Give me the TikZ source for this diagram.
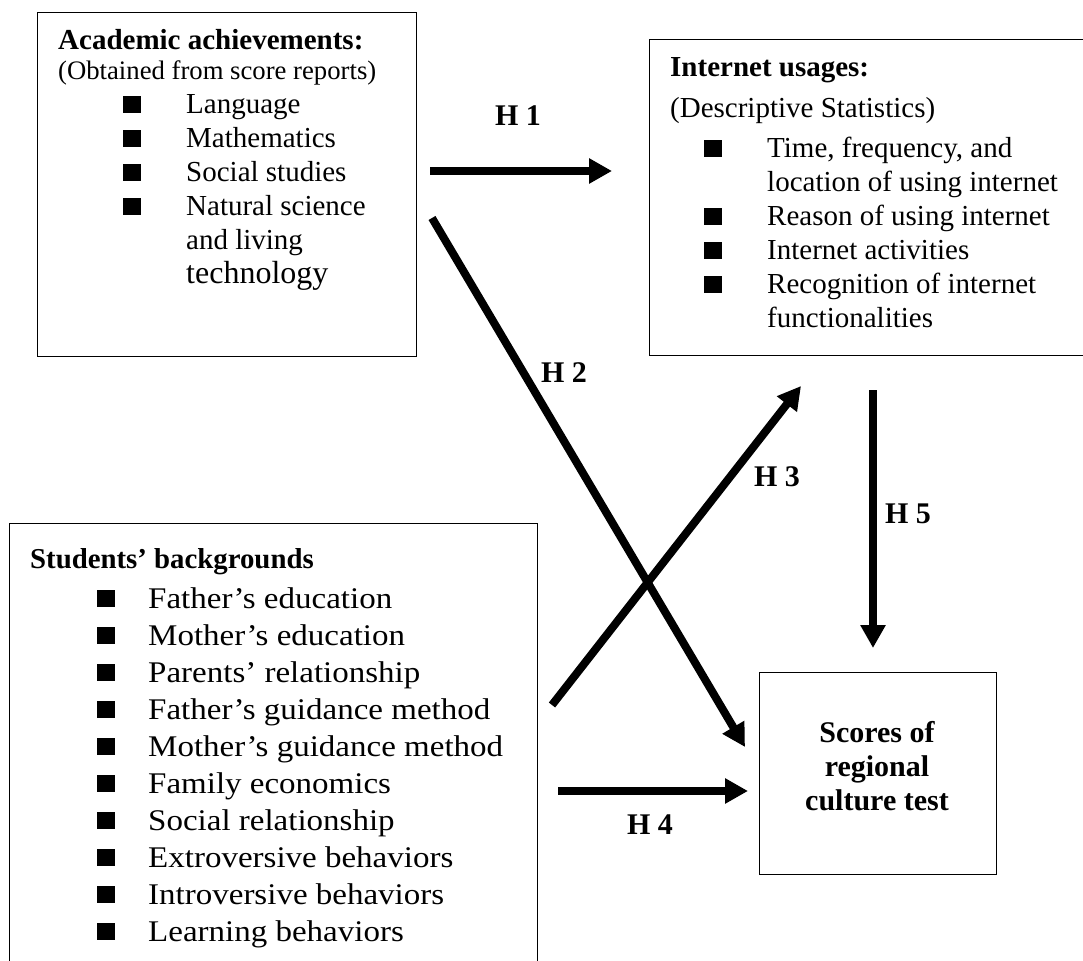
\documentclass[tikz,border=0pt]{standalone}
\usepackage{fontspec}
\setmainfont{Liberation Serif}
\newfontfamily\widefont[FakeStretch=1.1]{Liberation Serif}
\usepackage{tikz}
\usetikzlibrary{arrows.meta}
\usetikzlibrary{positioning}

\newcommand{\sqb}[1]{\makebox[#1][l]{\rule[1pt]{18pt}{17pt}}}

\begin{document}
\begin{tikzpicture}[x=1pt, y=-1pt,
	box/.style={draw, line width=1.2pt, inner sep=0pt, anchor=north west},
	txt/.style={inner sep=0pt, anchor=base west, font=\fontsize{29}{34}\selectfont},
	hyp/.style={line width=8pt, -{Triangle[length=23pt, width=24pt]}},
	hlab/.style={inner sep=0pt, font=\fontsize{30}{34}\selectfont\bfseries}]
				\useasboundingbox (0,0) rectangle (1083,960);
				\node[box, minimum width=379pt, minimum height=344pt] (acad) at (37,12) {};
				\node[box, minimum width=450pt, minimum height=316pt] (inet) at (649,39) {};
				\node[box, minimum width=528pt, minimum height=450pt] (stud) at (9,523) {};
				\node[box, minimum width=237pt, minimum height=202pt] (score) at (759,672) {};
				\node[txt] (acadtxt) at (58,50) {\begin{tabular}[t]{@{}l@{}}
					\textbf{Academic achievements:}\\[-4pt]
					{\fontsize{26.7}{34}\selectfont (Obtained from score reports)}\\
					\hspace*{65pt}\sqb{63pt}Language\\
					\hspace*{65pt}\sqb{63pt}Mathematics\\
					\hspace*{65pt}\sqb{63pt}Social studies\\
					\hspace*{65pt}\sqb{63pt}Natural science\\
					\hspace*{128pt}and living\\
					\hspace*{128pt}{\fontsize{32}{34}\selectfont technology}
				\end{tabular}};
				\node[txt] (inettxt) at (670,77) {\begin{tabular}[t]{@{}l@{}}
					\textbf{Internet usages:}\\[7pt]
					(Descriptive Statistics)\\[6pt]
					\hspace*{34pt}\sqb{63pt}Time, frequency, and\\
					\hspace*{97pt}location of using internet\\
					\hspace*{34pt}\sqb{63pt}Reason of using internet\\
					\hspace*{34pt}\sqb{63pt}Internet activities\\
					\hspace*{34pt}\sqb{63pt}Recognition of internet\\
					\hspace*{97pt}functionalities
				\end{tabular}};
				\node[txt, font=\widefont\fontsize{30}{37}\selectfont] (studtxt) at (30,568) {\begin{tabular}[t]{@{}l@{}}
					{\rmfamily\fontsize{28.8}{37}\selectfont\bfseries Students’ backgrounds}\\[3pt]
					\hspace*{67pt}\sqb{51pt}Father’s education\\
					\hspace*{67pt}\sqb{51pt}Mother’s education\\
					\hspace*{67pt}\sqb{51pt}Parents’ relationship\\
					\hspace*{67pt}\sqb{51pt}Father’s guidance method\\
					\hspace*{67pt}\sqb{51pt}Mother’s guidance method\\
					\hspace*{67pt}\sqb{51pt}Family economics\\
					\hspace*{67pt}\sqb{51pt}Social relationship\\
					\hspace*{67pt}\sqb{51pt}Extroversive behaviors\\
					\hspace*{67pt}\sqb{51pt}Introversive behaviors\\
					\hspace*{67pt}\sqb{51pt}Learning behaviors
				\end{tabular}};
				\node[hlab, align=center] (scoretxt) at (877,766) {Scores of\\regional\\culture test};
				\coordinate (h1s) at (430,171);
				\coordinate (h1e) at (612,171);
				\coordinate (h2s) at (432,218);
				\coordinate (h2e) at (745,747);
				\coordinate (h3s) at (552,705);
				\coordinate (h3e) at (801,386);
				\coordinate (h4s) at (558,791);
				\coordinate (h4e) at (748,791);
				\coordinate (h5s) at (873,390);
				\coordinate (h5e) at (873,648);
				\draw[hyp] (h1s) -- (h1e);
				\draw[hyp] (h2s) -- (h2e);
				\draw[hyp] (h3s) -- (h3e);
				\draw[hyp] (h4s) -- (h4e);
				\draw[hyp] (h5s) -- (h5e);
				\node[hlab] (h1) at (518,116) {H 1};
				\node[hlab] (h2) at (564,373) {H 2};
				\node[hlab] (h3) at (777,477) {H 3};
				\node[hlab] (h4) at (650,825) {H 4};
				\node[hlab] (h5) at (908,514) {H 5};
			\end{tikzpicture}
\end{document}
